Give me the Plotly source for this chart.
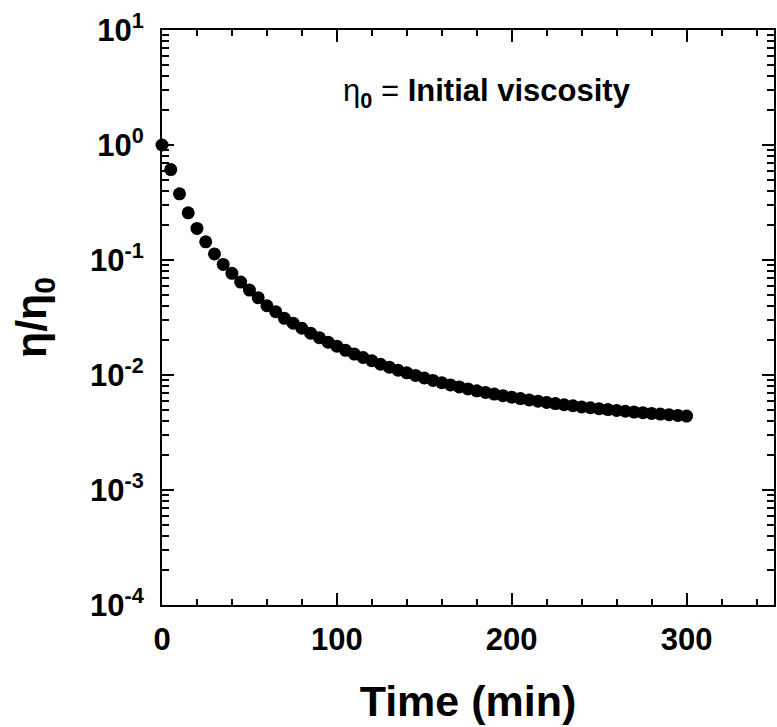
import plotly.graph_objects as go

# Relative viscosity decay over time
time_min = [0, 5, 10, 15, 20, 25, 30, 35, 40, 45, 50, 55, 60, 65, 70, 75, 80,
            85, 90, 95, 100, 105, 110, 115, 120, 125, 130, 135, 140, 145, 150,
            155, 160, 165, 170, 175, 180, 185, 190, 195, 200, 205, 210, 215,
            220, 225, 230, 235, 240, 245, 250, 255, 260, 265, 270, 275, 280,
            285, 290, 295, 300]
eta_ratio = [1.000, 0.611, 0.376, 0.257, 0.188, 0.144, 0.113, 0.0916, 0.0766,
             0.0643, 0.0548, 0.0470, 0.0400, 0.0355, 0.0311, 0.0282, 0.0255,
             0.0231, 0.0211, 0.0193, 0.0178, 0.0164, 0.0152, 0.0142, 0.0133,
             0.0124, 0.0117, 0.0110, 0.01045, 0.00991, 0.00942, 0.00897,
             0.00857, 0.00820, 0.00787, 0.00757, 0.00729, 0.00705, 0.00682,
             0.00661, 0.00641, 0.00624, 0.00607, 0.00592, 0.00577, 0.00564,
             0.00551, 0.00540, 0.00528, 0.00519, 0.00509, 0.00500, 0.00492,
             0.00484, 0.00476, 0.00470, 0.00463, 0.00457, 0.00451, 0.00445,
             0.00439]

x_ticks = [0, 100, 200, 300]
y_tick_vals = [1e-4, 1e-3, 1e-2, 1e-1, 1e0, 1e1]
y_tick_text = ["10<sup>-4</sup>", "10<sup>-3</sup>", "10<sup>-2</sup>",
               "10<sup>-1</sup>", "10<sup>0</sup>", "10<sup>1</sup>"]
y_minor_vals = [m * 10.0 ** e for e in range(-4, 1) for m in range(2, 10)]

FONT = "Liberation Sans, Arial, sans-serif"

fig = go.Figure()
fig.add_trace(go.Scatter(
    x=time_min, y=eta_ratio, mode="markers",
    marker=dict(color="black", size=13, line=dict(width=0)),
    cliponaxis=False, showlegend=False,
))

axis_common = dict(
    showline=True, linecolor="black", linewidth=2, mirror="ticks",
    ticks="inside", tickcolor="black", tickwidth=2, ticklen=12,
    showgrid=False, zeroline=False,
    tickfont=dict(family=FONT, size=31, color="black", weight="bold"),
    title_font=dict(family=FONT, size=43, color="black", weight="bold"),
)

fig.update_xaxes(
    range=[0, 350], tickvals=x_ticks,
    minor=dict(dtick=20, tick0=0, ticks="inside", ticklen=6, tickwidth=2,
               tickcolor="black", showgrid=False),
    title_text="Time (min)", title_standoff=30, ticklabelstandoff=6,
    **axis_common,
)
fig.update_yaxes(
    type="log", range=[-4, 1], tickmode="array",
    tickvals=y_tick_vals, ticktext=y_tick_text,
    minor=dict(tickmode="array", tickvals=y_minor_vals, ticks="inside",
               ticklen=7, tickwidth=2, tickcolor="black", showgrid=False),
    title_text="η/η<sub>0</sub>", title_standoff=30, ticklabelstandoff=10,
    **axis_common,
)

# Note explaining the reference viscosity
fig.add_annotation(
    x=186, y=0.89, xref="x", yref="paper",
    xanchor="center", yanchor="middle",
    text="η<sub><b>0</b></sub> = <b>Initial viscosity</b>", showarrow=False,
    font=dict(family=FONT, size=31, color="black"),
)

fig.update_layout(
    width=777, height=727,
    margin=dict(l=162, r=1, t=30, b=122),
    paper_bgcolor="white", plot_bgcolor="white",
)

fig.write_html("out.html")
